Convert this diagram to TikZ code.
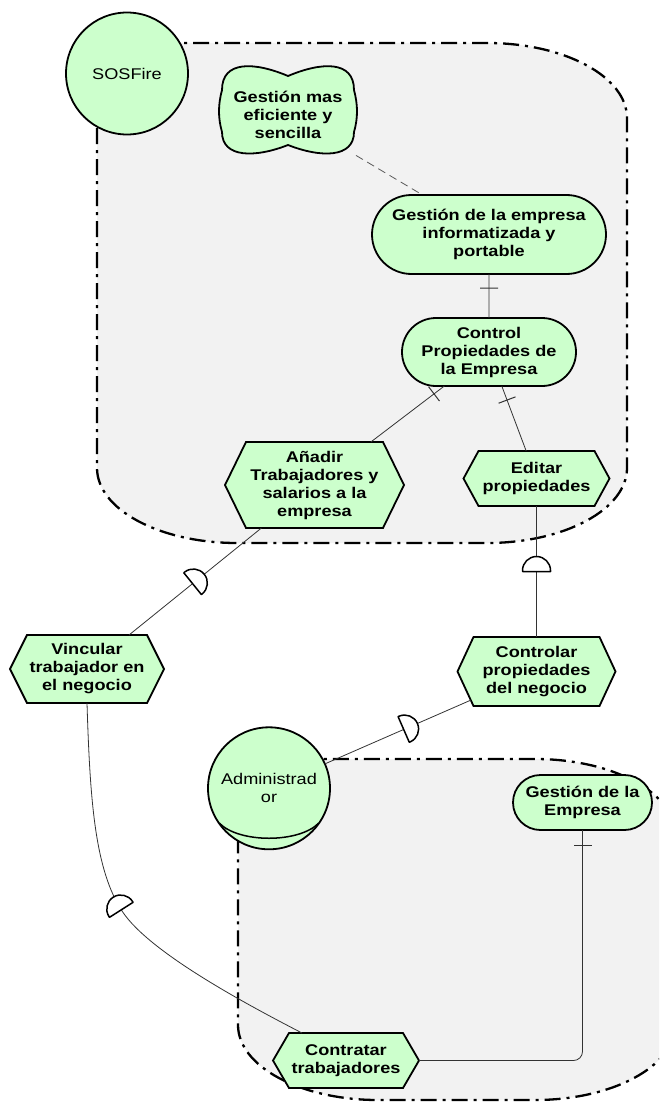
\documentclass[tikz,border=0pt]{standalone}
\usepackage{fontspec}
\setmainfont{Liberation Sans}[FakeStretch=1.17]
\usetikzlibrary{shapes.misc,decorations.markings,calc}

\definecolor{goalfill}{HTML}{CCFFCC}
\definecolor{boundfill}{HTML}{F2F2F2}
\definecolor{linkgray}{HTML}{333333}

% Task shape: a hexagon with pointed left and right ends,
% using the rectangle's anchors and border.
\makeatletter
\newdimen\hxL \newdimen\hxR \newdimen\hxT \newdimen\hxB
\newdimen\hxM \newdimen\hxI
\def\hexinset{16}
\pgfdeclareshape{taskhex}{
  \inheritsavedanchors[from=rectangle]
  \inheritanchorborder[from=rectangle]
  \inheritanchor[from=rectangle]{center}
  \inheritanchor[from=rectangle]{north}
  \inheritanchor[from=rectangle]{south}
  \inheritanchor[from=rectangle]{east}
  \inheritanchor[from=rectangle]{west}
  \inheritanchor[from=rectangle]{north east}
  \inheritanchor[from=rectangle]{north west}
  \inheritanchor[from=rectangle]{south east}
  \inheritanchor[from=rectangle]{south west}
  \backgroundpath{%
    \southwest \hxL=\pgf@x \hxB=\pgf@y
    \northeast \hxR=\pgf@x \hxT=\pgf@y
    \hxM=.5\hxB \advance\hxM by .5\hxT
    \pgfmathsetlength\hxI{\hexinset}%
    \pgfpathmoveto{\pgfqpoint{\hxL}{\hxM}}%
    \advance\hxL by \hxI
    \advance\hxR by -\hxI
    \pgfpathlineto{\pgfqpoint{\hxL}{\hxT}}%
    \pgfpathlineto{\pgfqpoint{\hxR}{\hxT}}%
    \advance\hxR by \hxI
    \pgfpathlineto{\pgfqpoint{\hxR}{\hxM}}%
    \advance\hxR by -\hxI
    \pgfpathlineto{\pgfqpoint{\hxR}{\hxB}}%
    \pgfpathlineto{\pgfqpoint{\hxL}{\hxB}}%
    \pgfpathclose
  }
}
\makeatother

\newcommand\labelfont{\fontsize{15.5}{18}\selectfont}

\begin{document}
\begin{tikzpicture}[x=1pt,y=-1pt,
  hex inset/.code={\def\hexinset{#1}},
  boundary/.style={fill=boundfill, draw=black, line width=2.3pt,
    dash pattern=on 16pt off 6pt on 3pt off 6pt},
  goalbase/.style={draw=black, line width=1.8pt, fill=goalfill, align=center,
    inner sep=0pt, outer sep=0pt, font=\labelfont\bfseries},
  goal/.style={goalbase, rounded rectangle},
  task/.style={goalbase, taskhex},
  actor/.style={draw=black, line width=1.8pt, fill=goalfill, circle, align=center,
    inner sep=0pt, outer sep=0pt, font=\labelfont},
  link/.style={draw=linkgray, line width=0.8pt},
  dashlink/.style={draw=black!65, line width=0.8pt, dash pattern=on 8pt off 5pt},
  tickmark/.style={postaction={decorate, decoration={markings,
    mark=at position #1 with {\draw[draw=linkgray, line width=1pt] (0,-9) -- (0,9);}}}},
  depmark/.style={postaction={decorate, decoration={markings,
    mark=at position #1 with {\draw[fill=white, draw=black, line width=1.5pt, line join=round]
      (0,-14) -- (-1,-14) arc[start angle=270, end angle=90, radius=14] -- (0,14) -- cycle;}}}},
]
\path[use as bounding box] (0,0) rectangle (659,1102);
\clip (0,0) rectangle (659,1102);

% actor boundaries
\filldraw[boundary] (97,101)
  arc[start angle=180, end angle=270, x radius=88, y radius=58] -- (487,43)
  arc[start angle=270, end angle=360, x radius=140, y radius=75] -- (627,468)
  arc[start angle=0, end angle=90, x radius=140, y radius=75] -- (237,543)
  arc[start angle=90, end angle=180, x radius=140, y radius=75] -- cycle;
\filldraw[boundary] (238,817)
  arc[start angle=180, end angle=270, x radius=80, y radius=58] -- (535,759)
  arc[start angle=270, end angle=360, x radius=140, y radius=75] -- (675,1025)
  arc[start angle=0, end angle=90, x radius=140, y radius=75] -- (378,1100)
  arc[start angle=90, end angle=180, x radius=140, y radius=75] -- cycle;

% actors
\node[actor, minimum size=122] (sos) at (127,73.5) {SOSFire};
\node[actor, minimum size=122] (adm) at (269,788.3) {Administrad\\or};
\draw[line width=1.5pt] ($(adm.center)+(-49.7,34.8)$)
  .. controls ($(adm.center)+(-30,55)$) and ($(adm.center)+(30,55)$)
  .. ($(adm.center)+(49.7,34.8)$);

% softgoal
\begin{scope}[shift={(288,110)}]
\filldraw[draw=black, line width=1.8pt, fill=goalfill]
  (-66,-20) .. controls (-66,-50) and (-33,-48) .. (0,-34)
  .. controls (33,-48) and (66,-50) .. (66,-20)
  .. controls (70,-5) and (70,8) .. (66,22)
  .. controls (66,48) and (33,48) .. (0,35)
  .. controls (-33,48) and (-66,48) .. (-66,22)
  .. controls (-70,8) and (-70,-5) .. (-66,-20) -- cycle;
\end{scope}
\node[align=center, inner sep=0pt, outer sep=0pt, minimum width=136, minimum height=86,
  font=\labelfont\bfseries] (gm) at (288,115) {Gestión mas\\eficiente y\\sencilla};

% goals
\node[goal, minimum width=234, minimum height=79] (gi) at (489,234.5)
  {Gestión de la empresa\\informatizada y\\portable};
\node[goal, minimum width=174, minimum height=68] (cp) at (489,352)
  {Control\\Propiedades de\\la Empresa};
\node[goal, minimum width=139, minimum height=55] (gde) at (582.5,802.5)
  {Gestión de la\\Empresa};

% tasks
\node[task, hex inset=21, minimum width=179, minimum height=86] (anad) at (314.5,485)
  {Añadir\\Trabajadores y\\salarios a la\\empresa};
\node[task, hex inset=15, minimum width=146, minimum height=55] (edi) at (536.5,478.5)
  {Editar\\propiedades};
\node[task, hex inset=17, minimum width=154, minimum height=68] (vin) at (87,669)
  {Vincular\\trabajador en\\el negocio};
\node[task, hex inset=16, minimum width=158, minimum height=69] (ctl) at (536.5,671.5)
  {Controlar\\propiedades\\del negocio};
\node[task, hex inset=16, minimum width=146, minimum height=55] (ctr) at (346,1060.5)
  {Contratar\\trabajadores};

% links
\draw[dashlink] (gm) -- (gi);
\draw[link, tickmark=14pt] (gi) -- (cp);
\draw[link, tickmark=13pt] (cp) -- (anad);
\draw[link, tickmark=15pt] (cp) -- (edi);
\draw[link, depmark=0.52] (anad) -- (vin);
\draw[link, depmark=0.5] (edi) -- (ctl);
\draw[link, depmark=0.46] ($(ctl.west)!0.83!(ctl.south west)+(13.3,0)$) -- (adm);
\draw[link, depmark=0.49] (vin.south)
  .. controls (90,800) and (94.75,870) .. (122.5,911.7)
  .. controls (150,953) and (248,1005) .. ([xshift=29pt]ctr.north west);
\draw[link, tickmark=15pt, rounded corners=9pt] (gde.south) |- (ctr.east);
\end{tikzpicture}
\end{document}
